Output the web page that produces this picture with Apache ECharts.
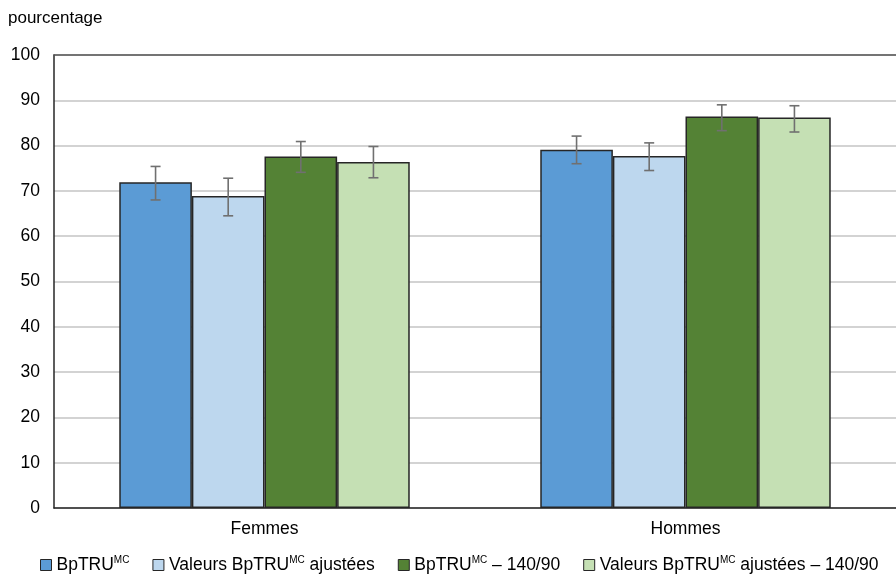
<!DOCTYPE html>
<html>
<head>
<meta charset="utf-8">
<script src="https://cdn.jsdelivr.net/npm/echarts@6/dist/echarts.min.js"></script>
<style>
  html, body { margin: 0; padding: 0; background: #fff; }
  #chart { width: 896px; height: 578px; }
</style>
</head>
<body>
<div id="chart"></div>
<script>
// Groups along the x axis
const categories = ['Femmes', 'Hommes'];

// Series names (legend text uses rich markup for the MC superscript)
const seriesNames = ['bptru', 'bptruAdj', 'bptru140', 'bptruAdj140'];
const legendLabels = [
  '{t|BpTRU}{s|MC}',
  '{t|Valeurs BpTRU}{s|MC}{t| ajustées}',
  '{t|BpTRU}{s|MC}{t| – 140/90}',
  '{t|Valeurs BpTRU}{s|MC}{t| ajustées – 140/90}'
];
const colors = ['#5B9BD5', '#BDD7EE', '#548235', '#C5E0B4'];

// Percentages per series, one value per category
const bptru       = [71.9, 79.1];
const bptruAdj    = [68.9, 77.7];
const bptru140    = [77.6, 86.4];
const bptruAdj140 = [76.4, 86.2];

// Confidence interval bounds (low, high) per series and category
const bptruLow        = [68.0, 76.0];
const bptruHigh       = [75.4, 82.1];
const bptruAdjLow     = [64.5, 74.5];
const bptruAdjHigh    = [72.8, 80.6];
const bptru140Low     = [74.1, 83.3];
const bptru140High    = [80.9, 89.0];
const bptruAdj140Low  = [72.9, 83.0];
const bptruAdj140High = [79.8, 88.8];

// Y axis ticks
const yMin = 0, yMax = 100, yStep = 10;

const values = [bptru, bptruAdj, bptru140, bptruAdj140];
const lows   = [bptruLow, bptruAdjLow, bptru140Low, bptruAdj140Low];
const highs  = [bptruHigh, bptruAdjHigh, bptru140High, bptruAdj140High];

const FONT = '"Liberation Sans", Arial, sans-serif';
const CAT_GAP = 0.31;

const legendMap = {};
seriesNames.forEach((n, i) => { legendMap[n] = legendLabels[i]; });

const barSeries = seriesNames.map((name, i) => ({
  name: name,
  type: 'bar',
  data: values[i],
  barGap: '0%',
  barCategoryGap: (CAT_GAP * 100) + '%',
  itemStyle: { color: colors[i], borderColor: '#262626', borderWidth: 1.5 },
  emphasis: { disabled: true },
  z: 2
}));

const errorSeries = seriesNames.map((name, i) => ({
  type: 'custom',
  name: name + '_err',
  data: categories.map((c, k) => [k, lows[i][k], highs[i][k]]),
  encode: { x: 0, y: [1, 2] },
  z: 5,
  silent: true,
  renderItem: function (params, api) {
    const k = api.value(0);
    const lo = api.coord([k, api.value(1)]);
    const hi = api.coord([k, api.value(2)]);
    const catW = api.size([1, 0])[0];
    const barW = catW * (1 - CAT_GAP) / seriesNames.length;
    const x = lo[0] + (i - (seriesNames.length - 1) / 2) * barW;
    const cap = 5;
    const style = { stroke: '#707070', lineWidth: 1.6, fill: null };
    return {
      type: 'group',
      children: [
        { type: 'line', shape: { x1: x, y1: hi[1], x2: x, y2: lo[1] }, style: style },
        { type: 'line', shape: { x1: x - cap, y1: hi[1], x2: x + cap, y2: hi[1] }, style: style },
        { type: 'line', shape: { x1: x - cap, y1: lo[1], x2: x + cap, y2: lo[1] }, style: style }
      ]
    };
  }
}));

const chart = echarts.init(document.getElementById('chart'), null, { renderer: 'canvas' });

chart.setOption({
  animation: false,
  backgroundColor: '#ffffff',
  textStyle: { fontFamily: FONT },
  graphic: [{
    type: 'text',
    left: 8,
    top: 10,
    style: { text: 'pourcentage', font: '17px ' + FONT, fill: '#000' }
  }],
  grid: { left: 54, top: 55, width: 847, bottom: 70, containLabel: false },
  legend: {
    data: seriesNames,
    bottom: -1,
    left: 35,
    icon: 'rect',
    itemWidth: 11,
    itemHeight: 11,
    itemGap: 23,
    itemStyle: { borderColor: '#262626', borderWidth: 1 },
    formatter: function (n) { return legendMap[n]; },
    textStyle: {
      fontFamily: FONT,
      rich: {
        t: { fontSize: 17.5, color: '#000', fontFamily: FONT, lineHeight: 20 },
        s: { fontSize: 10, color: '#000', fontFamily: FONT, verticalAlign: 'top', lineHeight: 12, padding: [0, 0, 8, 0] }
      }
    }
  },
  xAxis: [{
    type: 'category',
    data: categories,
    axisLine: { show: true, lineStyle: { color: '#262626', width: 1.5 } },
    axisTick: { show: false },
    axisLabel: { fontSize: 17.5, color: '#000', fontFamily: FONT, margin: 12 },
    z: 10
  }, {
    type: 'category',
    data: categories,
    position: 'top',
    axisLine: { show: true, lineStyle: { color: '#555555', width: 1.5 } },
    axisTick: { show: false },
    axisLabel: { show: false }
  }],
  yAxis: {
    type: 'value',
    min: yMin,
    max: yMax,
    interval: yStep,
    axisLine: { show: true, lineStyle: { color: '#262626', width: 1.5 } },
    axisTick: { show: false },
    axisLabel: { fontSize: 17.5, color: '#000', fontFamily: FONT, margin: 14 },
    splitLine: { lineStyle: { color: '#c4c4c4', width: 1.5 } }
  },
  series: barSeries.concat(errorSeries)
});
</script>
</body>
</html>
